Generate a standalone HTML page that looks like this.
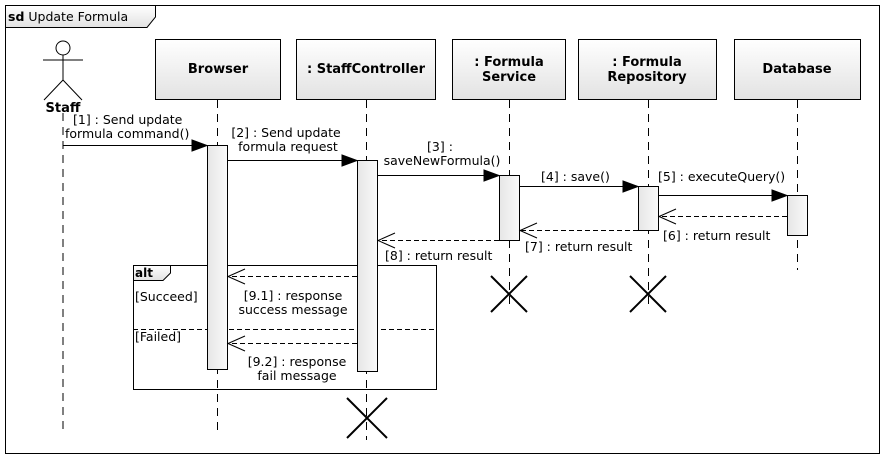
<!DOCTYPE html>
<html><head><style>
body{margin:0;background:#fff}
text{font-family:"DejaVu Sans","Liberation Sans",sans-serif;font-size:12.5px;fill:#000}
.b{font-weight:bold;font-size:13px}
</style></head><body>
<svg width="889" height="465" viewBox="0 0 889 465" xmlns="http://www.w3.org/2000/svg">
<defs>
<linearGradient id="g" x1="0" y1="0" x2="0" y2="1"><stop offset="0" stop-color="#fff"/><stop offset="1" stop-color="#e2e2e2"/></linearGradient>
<linearGradient id="a" x1="0" y1="0" x2="1" y2="0"><stop offset="0" stop-color="#e6e6e6"/><stop offset="1" stop-color="#fafafa"/></linearGradient>
</defs>
<rect x="5.5" y="5.5" width="874" height="448" fill="#fff" stroke="#000"/>
<path d="M5.5 5.5H155.5V17L147 27.5H5.5Z" fill="url(#g)" stroke="#000"/>
<text x="8" y="21"><tspan font-weight="bold">sd</tspan> Update Formula</text>
<g stroke="#000" stroke-dasharray="8,6" fill="none">
<line x1="63" y1="113" x2="63" y2="430"/>
<line x1="217.5" y1="100" x2="217.5" y2="430"/>
<line x1="366.5" y1="100" x2="366.5" y2="440"/>
<line x1="509.5" y1="100" x2="509.5" y2="310"/>
<line x1="648.5" y1="100" x2="648.5" y2="310"/>
<line x1="797.5" y1="100" x2="797.5" y2="270"/>
</g>
<g fill="url(#g)" stroke="#000">
<rect x="155.5" y="39.5" width="125" height="60"/>
<rect x="296.5" y="39.5" width="139" height="60"/>
<rect x="452.5" y="39.5" width="113" height="60"/>
<rect x="578.5" y="39.5" width="138" height="60"/>
<rect x="734.5" y="39.5" width="126" height="60"/>
</g>
<g text-anchor="middle">
<text class="b" x="218" y="73">Browser</text>
<text class="b" x="366" y="73">: StaffController</text>
<text class="b" x="509" y="66">: Formula</text><text class="b" x="509" y="81">Service</text>
<text class="b" x="647" y="66">: Formula</text><text class="b" x="647" y="81">Repository</text>
<text class="b" x="797" y="73">Database</text>
</g>
<g stroke="#000" fill="none">
<circle cx="63" cy="48" r="7" fill="#fff"/>
<line x1="63" y1="55" x2="63" y2="80"/><line x1="43" y1="60" x2="83" y2="60"/>
<path d="M44 100L63 80L82 100"/>
</g>
<text class="b" x="63" y="112" text-anchor="middle">Staff</text>
<rect x="133.5" y="265.5" width="303" height="124" fill="none" stroke="#000"/>
<path d="M133.5 265.5H170.5V273L163 280.5H133.5Z" fill="url(#g)" stroke="#000"/>
<text class="b" x="135" y="277" style="font-size:12px">alt</text>
<line x1="133" y1="329.5" x2="436" y2="329.5" stroke="#000" stroke-dasharray="5,3"/>
<text x="135" y="301">[Succeed]</text>
<text x="135" y="341">[Failed]</text>
<g fill="url(#a)" stroke="#000">
<rect x="207.5" y="145.5" width="20" height="224"/>
<rect x="357.5" y="160.5" width="20" height="211"/>
<rect x="499.5" y="175.5" width="20" height="65"/>
<rect x="638.5" y="186.5" width="20" height="44"/>
<rect x="787.5" y="195.5" width="20" height="40"/>
</g>
<g stroke="#000" fill="#000">
<line x1="63" y1="145.5" x2="192" y2="145.5"/><path d="M192 140L207 145.5L192 151Z"/>
<line x1="227" y1="160.5" x2="342" y2="160.5"/><path d="M342 155L357 160.5L342 166Z"/>
<line x1="377" y1="175.5" x2="484" y2="175.5"/><path d="M484 170L499 175.5L484 181Z"/>
<line x1="519" y1="186.5" x2="623" y2="186.5"/><path d="M623 181L638 186.5L623 192Z"/>
<line x1="658" y1="195.5" x2="772" y2="195.5"/><path d="M772 190L787 195.5L772 201Z"/>
</g>
<g stroke="#000" fill="none">
<line x1="787" y1="216.5" x2="659" y2="216.5" stroke-dasharray="5,3"/><path d="M676 209L659 216.5L676 224"/>
<line x1="638" y1="230.5" x2="520" y2="230.5" stroke-dasharray="5,3"/><path d="M537 223L520 230.5L537 238"/>
<line x1="499" y1="240.5" x2="378" y2="240.5" stroke-dasharray="5,3"/><path d="M395 233L378 240.5L395 248"/>
<line x1="357" y1="276.5" x2="228" y2="276.5" stroke-dasharray="5,3"/><path d="M245 269L228 276.5L245 284"/>
<line x1="357" y1="343.5" x2="228" y2="343.5" stroke-dasharray="5,3"/><path d="M245 336L228 343.5L245 351"/>
</g>
<text x="73" y="124">[1] : Send update</text>
<text x="65" y="138">formula command()</text>
<text x="286" y="137" text-anchor="middle">[2] : Send update</text>
<text x="288" y="151" text-anchor="middle">formula request</text>
<text x="440" y="151" text-anchor="middle">[3] :</text>
<text x="442" y="165" text-anchor="middle">saveNewFormula()</text>
<text x="541" y="181">[4] : save()</text>
<text x="658" y="181">[5] : executeQuery()</text>
<text x="663" y="240">[6] : return result</text>
<text x="525" y="251">[7] : return result</text>
<text x="385" y="260">[8] : return result</text>
<text x="293" y="300" text-anchor="middle">[9.1] : response</text>
<text x="293" y="314" text-anchor="middle">success message</text>
<text x="297" y="366" text-anchor="middle">[9.2] : response</text>
<text x="297" y="380" text-anchor="middle">fail message</text>
<g stroke="#000" stroke-width="2">
<path d="M491 276L527 312M527 276L491 312"/>
<path d="M630 276L666 312M666 276L630 312"/>
<path d="M347 398L387 438M387 398L347 438"/>
</g>
</svg>
</body></html>
